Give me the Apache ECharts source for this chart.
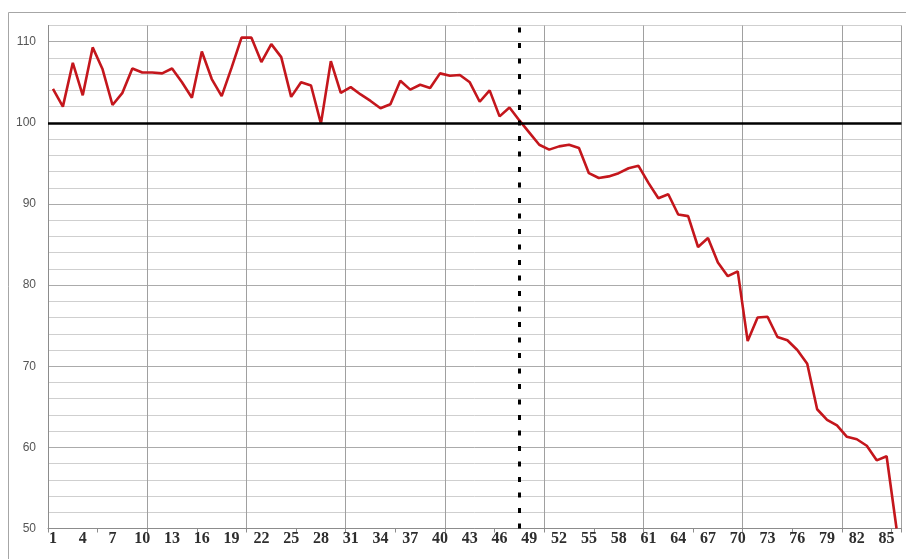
<!DOCTYPE html>
<html>
<head>
<meta charset="utf-8">
<script src="https://cdn.jsdelivr.net/npm/echarts@6/dist/echarts.min.js"></script>
<style>
  html, body { margin: 0; padding: 0; background: #ffffff; }
  #chart { width: 906px; height: 559px; }
</style>
</head>
<body>
<div id="chart"></div>
<script>
// Category labels along the x axis (1 … 86)
const categories = [
  '1','2','3','4','5','6','7','8','9','10',
  '11','12','13','14','15','16','17','18','19','20',
  '21','22','23','24','25','26','27','28','29','30',
  '31','32','33','34','35','36','37','38','39','40',
  '41','42','43','44','45','46','47','48','49','50',
  '51','52','53','54','55','56','57','58','59','60',
  '61','62','63','64','65','66','67','68','69','70',
  '71','72','73','74','75','76','77','78','79','80',
  '81','82','83','84','85','86'
];

// Index values per category
const values = [
  104.2, 102.0, 107.4, 103.4, 109.3, 106.6, 102.2, 103.7, 106.7, 106.2,
  106.2, 106.1, 106.7, 105.0, 103.1, 108.8, 105.4, 103.3, 106.8, 110.5,
  110.5, 107.5, 109.7, 108.1, 103.2, 105.0, 104.6,  99.9, 107.6, 103.7,
  104.4, 103.5, 102.7, 101.8, 102.3, 105.2, 104.1, 104.7, 104.3, 106.1,
  105.8, 105.9, 105.0, 102.6, 104.0, 100.8, 101.9, 100.3,  98.8,  97.3,
   96.7,  97.1,  97.3,  96.9,  93.8,  93.2,  93.4,  93.8,  94.4,  94.7,
   92.6,  90.7,  91.2,  88.7,  88.5,  84.7,  85.8,  82.8,  81.1,  81.7,
   73.1,  76.0,  76.1,  73.6,  73.2,  72.0,  70.3,  64.7,  63.4,  62.7,
   61.3,  61.0,  60.2,  58.4,  58.9,  50.0
];

// Reference level and the marked category
const baseLevel = 100;
const markedCategory = '48';

// Value axis range
const yMin = 50;
const yMax = 112;
const yStep = 2;

const chart = echarts.init(document.getElementById('chart'), null, { renderer: 'canvas' });

chart.setOption({
  animation: false,
  backgroundColor: '#ffffff',
  graphic: [{
    type: 'rect',
    shape: { x: 8.5, y: 12.5, width: 1000, height: 1000 },
    style: { fill: 'none', stroke: '#a6a6a6', lineWidth: 1 },
    silent: true,
    z: 0
  }],
  grid: { left: 48, right: 4.5, top: 25.5, bottom: 30.5, containLabel: false },
  xAxis: {
    type: 'category',
    data: categories,
    boundaryGap: true,
    axisLine: { show: true, lineStyle: { color: '#8c8c8c', width: 1 } },
    axisTick: {
      show: true,
      length: 4,
      interval: function (index) { return index % 5 === 0; },
      lineStyle: { color: '#8c8c8c' }
    },
    axisLabel: {
      interval: 2,
      margin: 2,
      color: '#2e2e2e',
      fontFamily: 'Liberation Serif',
      fontWeight: 'bold',
      fontSize: 16
    },
    splitLine: {
      show: true,
      interval: function (index) { return index % 10 === 0; },
      lineStyle: { color: '#a0a0a0', width: 1 }
    }
  },
  yAxis: {
    type: 'value',
    min: yMin,
    max: yMax,
    interval: yStep,
    axisLine: { show: true, lineStyle: { color: '#8c8c8c', width: 1 } },
    axisTick: { show: false },
    axisLabel: {
      margin: 12,
      color: '#555555',
      fontFamily: 'Liberation Sans',
      fontSize: 12,
      formatter: function (v) { return v % 10 === 0 ? String(v) : ''; }
    },
    splitLine: {
      show: true,
      lineStyle: { color: ['#ababab', '#cfcfcf', '#cfcfcf', '#cfcfcf', '#cfcfcf'], width: 1 }
    }
  },
  series: [{
    type: 'line',
    data: values,
    symbol: 'none',
    smooth: false,
    lineStyle: { color: '#c4161c', width: 2.6 },
    z: 3,
    markLine: {
      silent: true,
      symbol: ['none', 'none'],
      label: { show: false },
      data: [
        { yAxis: baseLevel, lineStyle: { color: '#000000', width: 2.6, type: 'solid' } },
        { xAxis: markedCategory, lineStyle: { color: '#000000', width: 3, type: [5, 10.5] } }
      ]
    }
  }]
});
</script>
</body>
</html>
